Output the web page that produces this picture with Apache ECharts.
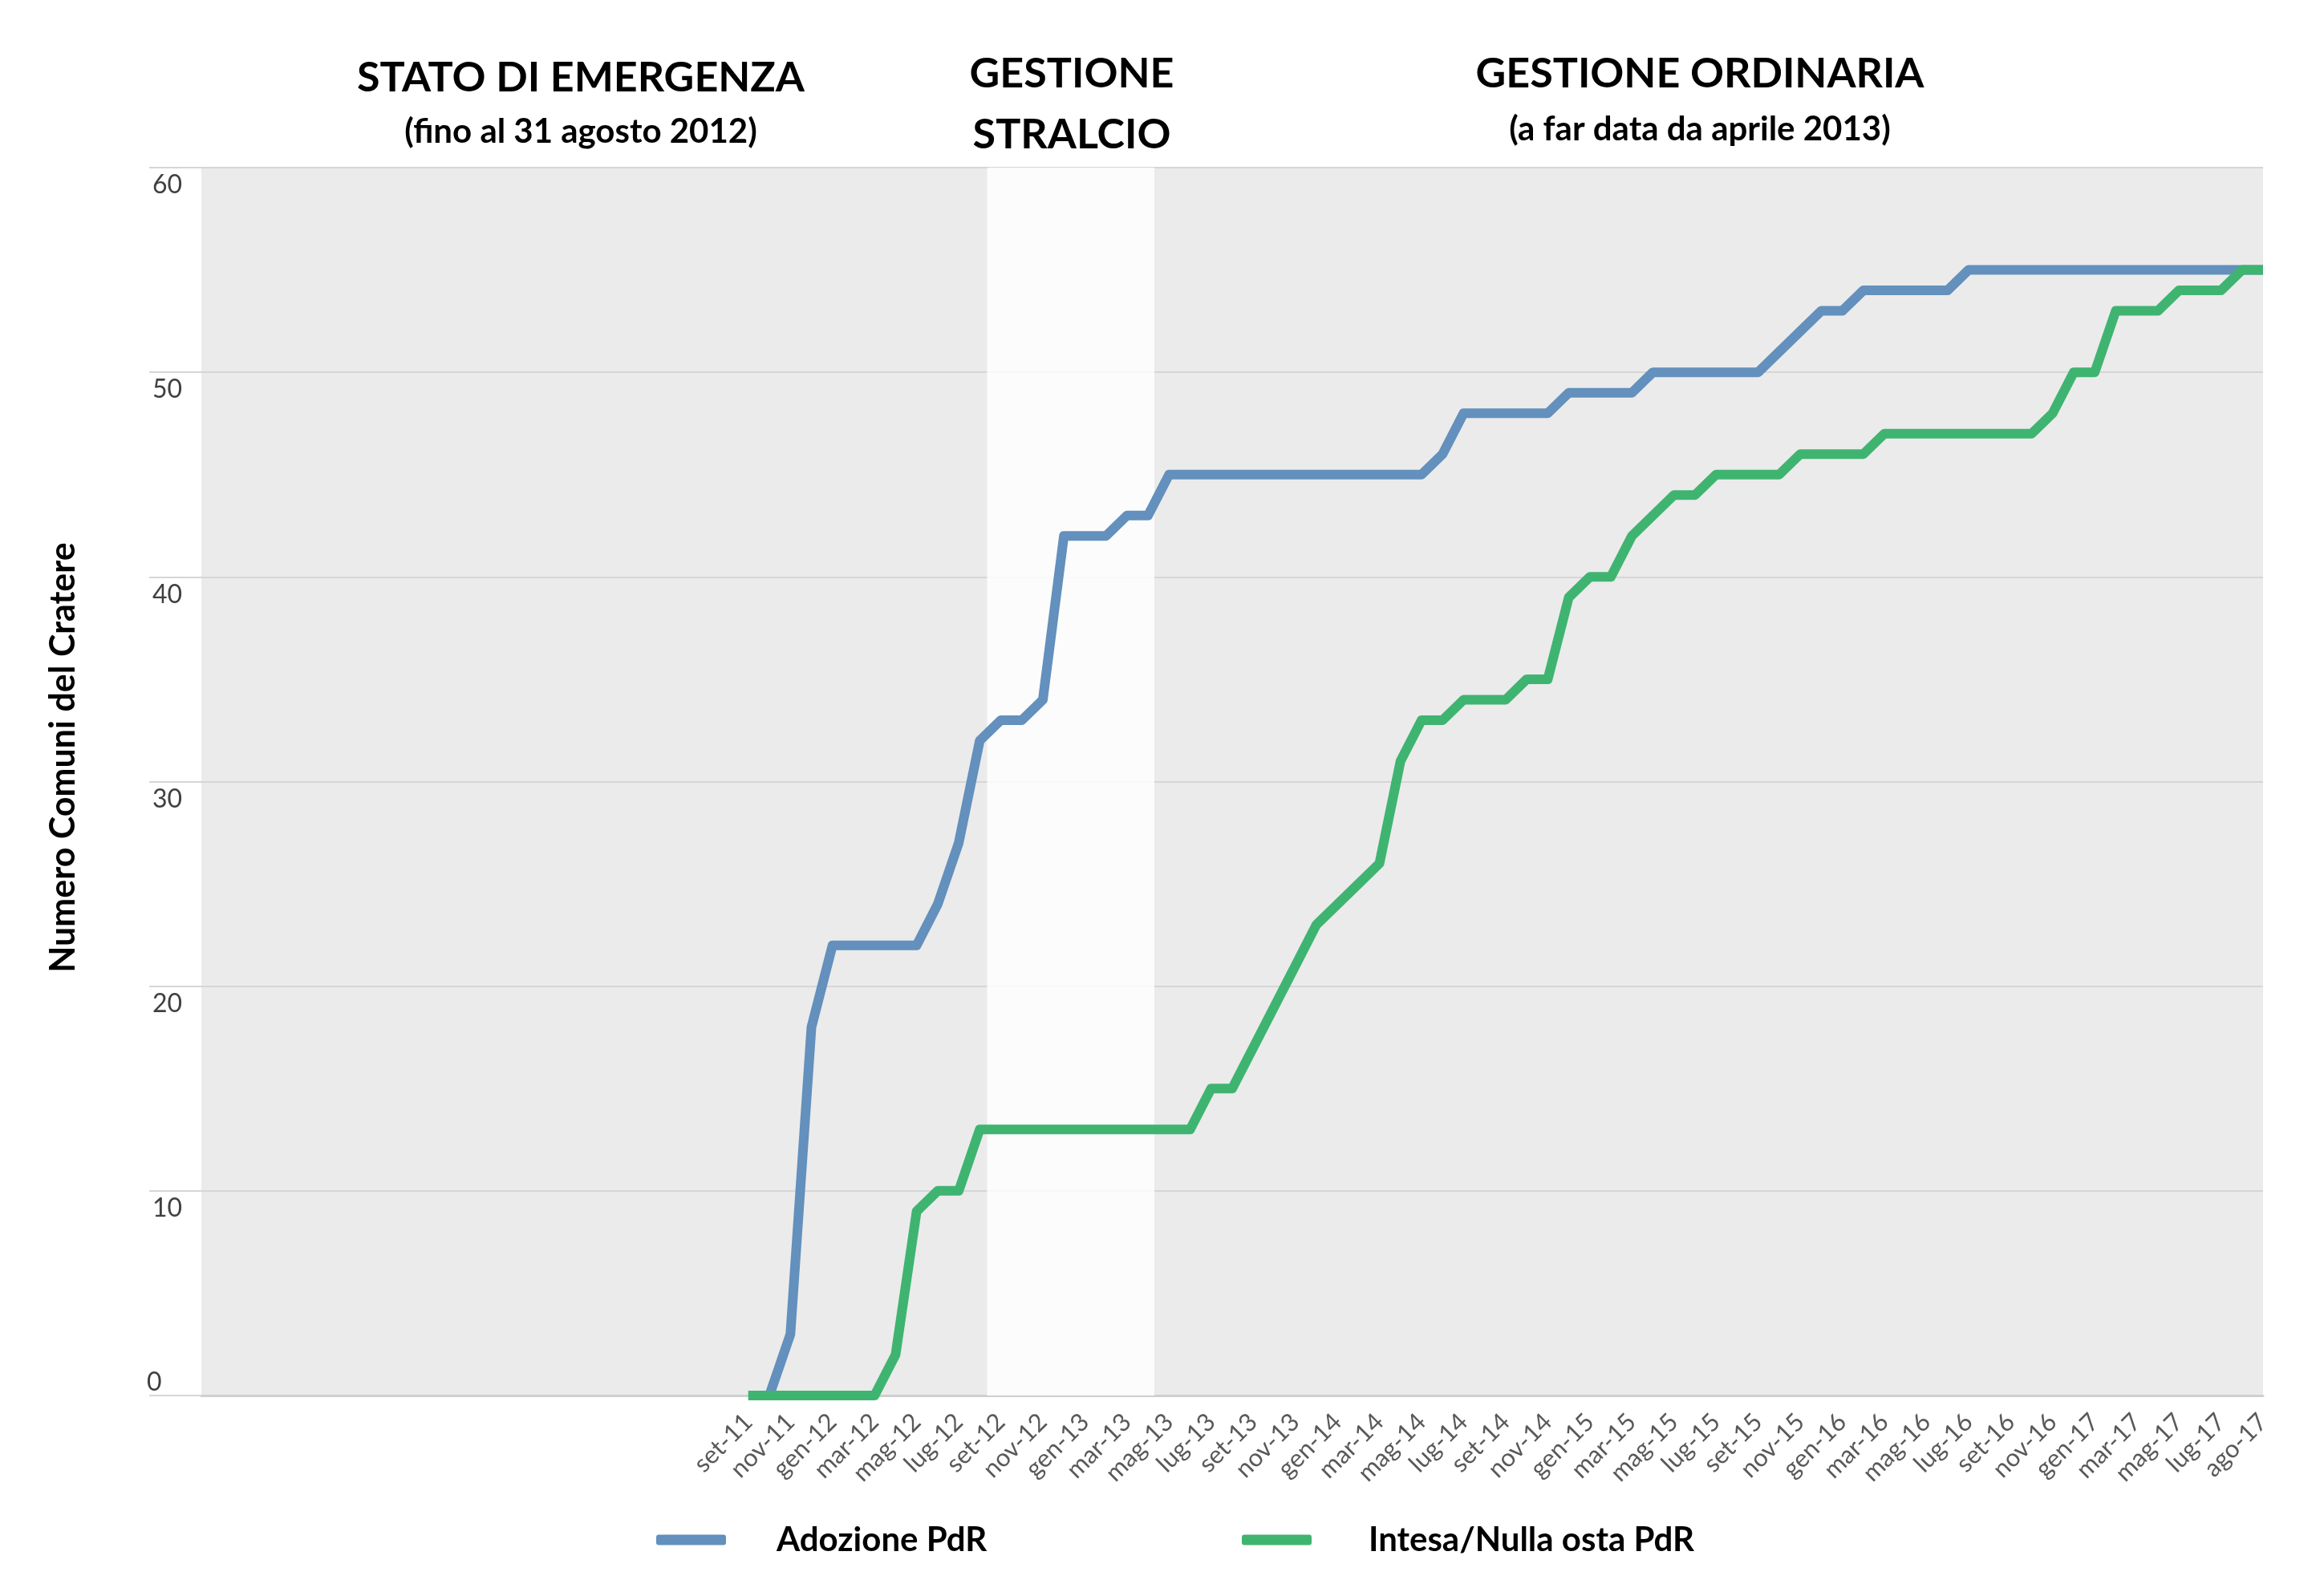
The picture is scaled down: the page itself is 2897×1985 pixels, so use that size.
<!DOCTYPE html>
<html><head><meta charset="utf-8">
<script src="https://cdn.jsdelivr.net/npm/echarts@6/dist/echarts.min.js"></script>
<style>html,body{margin:0;padding:0;background:#fff}#c{width:2897px;height:1985px}</style>
</head><body><div id="c"></div>
<script>
// empty months shown before the first recorded month (set-11)
const leadingBlankCount = 26;
const months = ['set-11','ott-11','nov-11','dic-11',
 'gen-12','feb-12','mar-12','apr-12','mag-12','giu-12','lug-12','ago-12','set-12','ott-12','nov-12','dic-12',
 'gen-13','feb-13','mar-13','apr-13','mag-13','giu-13','lug-13','ago-13','set-13','ott-13','nov-13','dic-13',
 'gen-14','feb-14','mar-14','apr-14','mag-14','giu-14','lug-14','ago-14','set-14','ott-14','nov-14','dic-14',
 'gen-15','feb-15','mar-15','apr-15','mag-15','giu-15','lug-15','ago-15','set-15','ott-15','nov-15','dic-15',
 'gen-16','feb-16','mar-16','apr-16','mag-16','giu-16','lug-16','ago-16','set-16','ott-16','nov-16','dic-16',
 'gen-17','feb-17','mar-17','apr-17','mag-17','giu-17','lug-17','ago-17','ago-17'];
const adozionePdR = [0,0,3,18,22,22,22,22,22,24,27,32,33,33,34,42,42,42,43,43,45,
 45,45,45,45,45,45,45,45,45,45,45,45,
 46,48,48,48,48,48,49,49,49,49,50,50,50,50,50,50,51,52,53,53,54,54,54,54,54,
 55,55,55,55,55,55,55,55,55,55,55,55,55,55,55];
const intesaPdR = [0,0,0,0,0,0,0,2,9,10,10,13,13,13,13,13,13,13,13,13,13,13,
 15,15,17,19,21,23,24,25,26,31,33,33,34,34,34,35,35,39,40,40,42,43,44,44,
 45,45,45,45,46,46,46,46,47,47,47,47,47,47,47,47,
 48,50,50,53,53,53,54,54,54,55,55];
const yTicks = {min: 0, max: 60, interval: 10};
// "Gestione stralcio" period, in category-index units (start, end)
const stralcioBand = [37.35, 45.3];

const blanks = Array(leadingBlankCount).fill('');
const nulls = Array(leadingBlankCount).fill(null);
const categories = blanks.concat(months);
const FONT = 'Lato';
const BLUE = '#6390BC', GREEN = '#3FB471';

const chart = echarts.init(document.getElementById('c'), null, {renderer: 'canvas'});
const titleStyle = {fontFamily: FONT, fontWeight: 'bold', fontSize: 52, color: '#000', lineHeight: 76};
const subStyle = {fontFamily: FONT, fontWeight: 'bold', fontSize: 42, color: '#000'};
chart.setOption({
  backgroundColor: '#fff',
  animation: false,
  title: [
    {text: 'STATO DI EMERGENZA', subtext: '(fino al 31 agosto 2012)', left: 724, top: 59, padding: 0, itemGap: 8,
     textAlign: 'center', textStyle: titleStyle, subtextStyle: subStyle},
    {text: 'GESTIONE\nSTRALCIO', left: 1336, top: 54, padding: 0, textAlign: 'center', textStyle: titleStyle},
    {text: 'GESTIONE ORDINARIA', subtext: '(a far data da aprile 2013)', left: 2119, top: 54, padding: 0, itemGap: 10,
     textAlign: 'center', textStyle: titleStyle, subtextStyle: subStyle}
  ],
  legend: [
    {data: ['Adozione PdR'], left: 813, top: 1894, icon: 'roundRect', itemWidth: 87, itemHeight: 13,
     textStyle: {fontFamily: FONT, fontWeight: 'bold', fontSize: 42, color: '#000', padding: [0,0,0,58]}},
    {data: ['Intesa/Nulla osta PdR'], left: 1543, top: 1894, icon: 'roundRect', itemWidth: 87, itemHeight: 13,
     textStyle: {fontFamily: FONT, fontWeight: 'bold', fontSize: 42, color: '#000', padding: [0,0,0,66]}}
  ],
  grid: {left: 251, right: 76, top: 209, bottom: 245, show: true, backgroundColor: '#EBEBEB', borderWidth: 0},
  xAxis: [
    {type: 'category', data: categories, boundaryGap: false,
     axisTick: {show: false},
     axisLine: {lineStyle: {color: '#CFCFCF', width: 3}},
     axisLabel: {interval: 1, rotate: 45, margin: 28, fontFamily: FONT, fontSize: 31, color: '#595959'}},
    {type: 'value', min: 0, max: categories.length - 1, show: false, position: 'bottom'}
  ],
  yAxis: [
    {type: 'value', position: 'left', min: yTicks.min, max: yTicks.max, interval: yTicks.interval,
     name: 'Numero Comuni del Cratere', nameLocation: 'middle', nameRotate: 90, nameGap: 150,
     nameTextStyle: {fontFamily: FONT, fontWeight: 'bold', fontSize: 43, color: '#000', padding: [0,0,0,60]},
     axisLine: {show: false},
     axisTick: {show: true, length: 65, lineStyle: {color: '#D6D6D6', width: 2}},
     splitLine: {lineStyle: {color: '#D6D6D6', width: 2}},
     axisLabel: {formatter: v => v === 0 ? '' : String(v), align: 'left', margin: 61, verticalAlign: 'top',
       padding: [6,0,0,0], fontFamily: FONT, fontSize: 32, color: '#404040'}},
    {type: 'value', position: 'left', min: yTicks.min, max: yTicks.max, interval: yTicks.interval,
     axisLine: {show: false}, axisTick: {show: false}, splitLine: {show: false},
     axisLabel: {formatter: v => v === 0 ? '0' : '', align: 'left', margin: 68, verticalAlign: 'bottom',
       padding: [0,0,0,0], fontFamily: FONT, fontSize: 32, color: '#404040'}}
  ],
  series: [
    {type: 'line', xAxisIndex: 1, yAxisIndex: 0, data: [], silent: true,
     markArea: {silent: true, itemStyle: {color: 'rgba(255,255,255,0.82)'},
       data: [[{xAxis: stralcioBand[0]}, {xAxis: stralcioBand[1]}]]}},
    {name: 'Adozione PdR', type: 'line', data: nulls.concat(adozionePdR), symbol: 'none',
     itemStyle: {color: BLUE}, lineStyle: {color: BLUE, width: 12, join: 'round'}, z: 3},
    {name: 'Intesa/Nulla osta PdR', type: 'line', data: nulls.concat(intesaPdR), symbol: 'none',
     itemStyle: {color: GREEN}, lineStyle: {color: GREEN, width: 12, join: 'round'}, z: 4}
  ]
});
</script></body></html>
